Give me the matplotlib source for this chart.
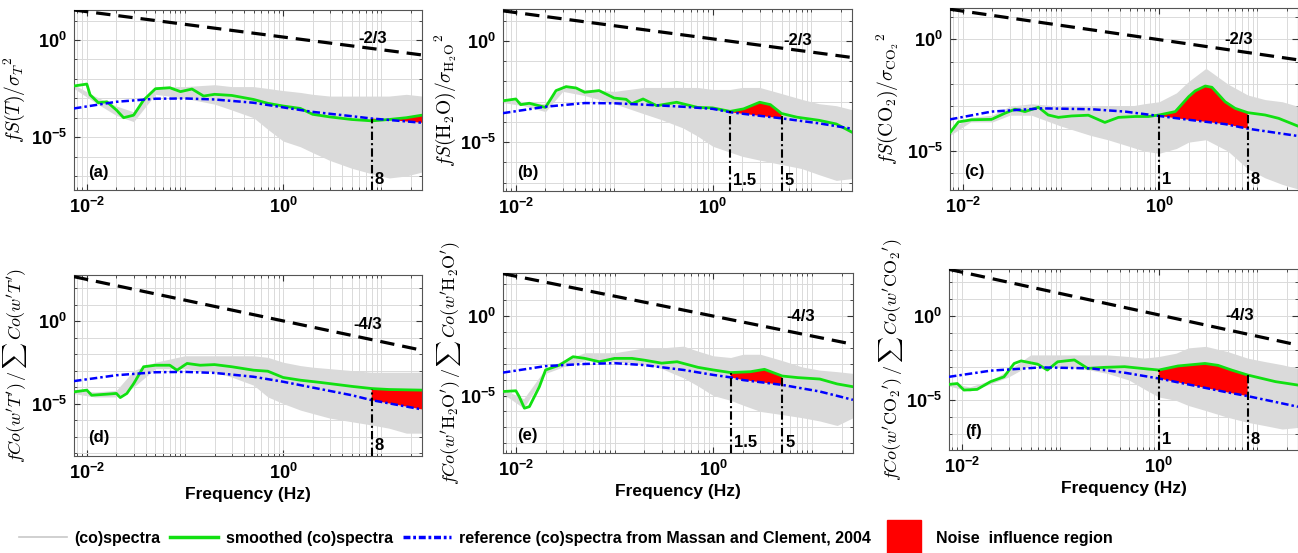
#Purpose: normalized (co)spectra of T, H2O, CO2 with noise influence regions
import numpy as np
import matplotlib.pyplot as plt
from matplotlib.lines import Line2D
from matplotlib.ticker import FixedLocator, LogLocator, NullFormatter
import matplotlib.transforms as mtransforms

plt.rcParams['font.family'] = ['Liberation Sans', 'DejaVu Sans']
plt.rcParams['font.weight'] = 'bold'
plt.rcParams['mathtext.fontset'] = 'custom'
plt.rcParams['mathtext.rm'] = 'Liberation Sans:bold'
plt.rcParams['mathtext.bf'] = 'Liberation Sans:bold'
plt.rcParams['mathtext.it'] = 'Liberation Sans:bold:italic'

#frequency range and the -2/3, -4/3 guide lines
x_range = [0.0074, 26]
slope_f = [0.0074, 26]

#grey raw (co)spectra: upper and lower envelope
grey_f = [0.0074, 0.012, 0.02, 0.03, 0.05, 0.1, 0.2, 0.3, 0.5, 0.7, 1, 1.5, 2, 3, 5, 8, 12, 18, 26]

# ---- (a) T spectrum
a_green_f = [0.0074, 0.010, 0.0108, 0.0131, 0.016, 0.020, 0.0237, 0.030, 0.0379, 0.050, 0.070, 0.090,
             0.118, 0.155, 0.20, 0.30, 0.50, 0.70, 1.0, 1.5, 2.0, 3.0, 5.0, 8.0, 12, 18, 26]
a_green = [4.3e-3, 5.4e-3, 1.5e-3, 5.9e-4, 6.6e-4, 2.5e-4, 1.0e-4, 1.35e-4, 8.1e-4, 3.1e-3, 3.5e-3, 2.2e-3,
           3.0e-3, 1.3e-3, 1.6e-3, 1.4e-3, 8.7e-4, 5.5e-4, 4.0e-4, 3.0e-4, 1.5e-4, 1.1e-4, 8.1e-5, 6.9e-5, 8.1e-5, 1.0e-4, 1.35e-4]
a_ref_f = [0.0074, 0.02, 0.05, 0.1, 0.2, 0.5, 1.0, 2.0, 5.0, 8.0, 26]
a_ref = [3.0e-4, 6.6e-4, 9.5e-4, 9.8e-4, 8.7e-4, 5.9e-4, 3.4e-4, 2.0e-4, 1.2e-4, 9.1e-5, 5.5e-5]
a_grey_hi = [5.0e-3, 1.3e-3, 4.0e-4, 2.0e-4, 4.0e-3, 4.0e-3, 5.0e-3, 4.0e-3, 4.0e-3, 3.2e-3, 2.5e-3, 2.0e-3,
             1.6e-3, 1.3e-3, 1.3e-3, 1.3e-3, 1.3e-3, 1.6e-3, 1.3e-3]
a_grey_lo = [3.2e-3, 6.3e-4, 1.3e-4, 6.3e-5, 1.6e-3, 1.0e-3, 5.0e-4, 2.5e-4, 1.0e-4, 2.5e-5, 6.3e-6, 3.2e-6,
             1.6e-6, 6.3e-7, 2.5e-7, 1.3e-7, 7.9e-8, 1.0e-7, 1.6e-7]
a_slope = [35, 0.17]
a_ylim = [1.9e-8, 35]

# ---- (b) H2O spectrum
b_green_f = [0.0074, 0.010, 0.0112, 0.0137, 0.020, 0.0256, 0.0324, 0.041, 0.050, 0.070, 0.10, 0.132,
             0.15, 0.196, 0.27, 0.43, 0.70, 1.0, 1.5, 2.06, 3.0, 3.85, 5.0, 7.2, 12, 18, 26]
b_green = [1.1e-3, 1.35e-3, 7.1e-4, 8.3e-4, 5.2e-4, 3.5e-3, 5.5e-3, 4.7e-3, 2.9e-3, 3.5e-3, 1.5e-3, 1.3e-3,
           7.8e-4, 1.35e-3, 6.3e-4, 9.3e-4, 5.2e-4, 4.9e-4, 3.3e-4, 4.4e-4, 9.3e-4, 7.1e-4, 2.6e-4, 1.7e-4, 1.2e-4, 7.9e-5, 3.1e-5]
b_ref_f = [0.0074, 0.02, 0.05, 0.1, 0.2, 0.5, 1.0, 1.5, 3.0, 5.0, 12, 26]
b_ref = [2.7e-4, 5.6e-4, 8.5e-4, 8.3e-4, 7.1e-4, 5.6e-4, 4.4e-4, 3.0e-4, 2.0e-4, 1.5e-4, 8.5e-5, 4.6e-5]
b_grey_hi = [1.4e-3, 1.0e-3, 7.9e-4, 6.3e-3, 4.0e-3, 3.2e-3, 5.0e-3, 5.0e-3, 5.0e-3, 5.0e-3, 4.0e-3, 4.0e-3,
             5.0e-3, 5.0e-3, 2.5e-3, 1.3e-3, 7.9e-4, 6.3e-4, 4.0e-4]
b_grey_lo = [8.9e-4, 6.3e-4, 3.2e-4, 3.2e-3, 2.0e-3, 7.9e-4, 2.5e-4, 1.3e-4, 5.0e-5, 2.0e-5, 6.3e-6, 3.2e-6,
             2.0e-6, 1.3e-6, 7.9e-7, 5.0e-7, 2.5e-7, 1.3e-7, 1.6e-7]
b_slope = [30, 0.15]
b_ylim = [3.9e-8, 37]

# ---- (c) CO2 spectrum
c_green_f = [0.0074, 0.009, 0.0123, 0.0196, 0.0268, 0.034, 0.043, 0.059, 0.074, 0.094, 0.128, 0.19,
             0.28, 0.385, 0.57, 0.78, 1.0, 1.46, 2.0, 2.33, 2.95, 3.45, 4.0, 4.7, 5.95, 8.0, 12, 16.5, 26]
c_green = [6.6e-5, 2.0e-4, 2.5e-4, 2.6e-4, 4.9e-4, 7.4e-4, 5.8e-4, 9.1e-4, 4.1e-4, 3.2e-4, 3.7e-4, 4.0e-4,
           1.9e-4, 3.2e-4, 3.5e-4, 3.5e-4, 4.1e-4, 5.8e-4, 2.7e-3, 4.9e-3, 8.1e-3, 7.1e-3, 3.5e-3, 1.6e-3,
           8.1e-4, 5.2e-4, 4.1e-4, 2.9e-4, 1.3e-4]
c_ref_f = [0.0074, 0.0196, 0.064, 0.206, 0.45, 1.0, 2.0, 4.7, 8.0, 26]
c_ref = [2.6e-4, 5.8e-4, 8.1e-4, 7.4e-4, 5.8e-4, 3.7e-4, 2.5e-4, 1.6e-4, 1.0e-4, 4.7e-5]
c_grey_hi = [1.0e-4, 3.2e-4, 4.0e-4, 1.0e-3, 1.3e-3, 1.0e-3, 1.0e-3, 1.0e-3, 1.0e-3, 1.3e-3, 1.6e-3, 4.0e-3,
             1.3e-2, 5.0e-2, 1.0e-2, 3.2e-3, 2.0e-3, 1.6e-3, 1.0e-3]
c_grey_lo = [5.0e-5, 2.0e-4, 2.0e-4, 4.0e-4, 4.0e-4, 1.3e-4, 5.0e-5, 3.2e-5, 1.6e-5, 1.0e-5, 7.9e-6, 1.3e-5,
             2.5e-5, 3.2e-5, 1.0e-5, 1.6e-6, 6.3e-7, 3.2e-7, 2.0e-7]
c_slope = [22, 0.12]
c_ylim = [1.8e-7, 25]

# ---- (d) w'T' cospectrum
d_green_f = [0.0074, 0.010, 0.0112, 0.016, 0.020, 0.0219, 0.0256, 0.030, 0.0379, 0.050, 0.070, 0.083,
             0.105, 0.143, 0.20, 0.30, 0.50, 0.70, 1.0, 1.5, 2.4, 5.0, 8.0, 12, 26]
d_green = [5.1e-5, 6.5e-5, 3.2e-5, 3.7e-5, 4.1e-5, 2.3e-5, 4.1e-5, 1.6e-4, 1.7e-3, 2.1e-3, 2.1e-3, 1.05e-3,
           2.7e-3, 2.1e-3, 2.3e-3, 1.7e-3, 1.05e-3, 9.1e-4, 3.8e-4, 2.6e-4, 1.9e-4, 1.1e-4, 8.1e-5, 7.1e-5, 6.5e-5]
d_ref_f = [0.0074, 0.02, 0.05, 0.1, 0.2, 0.5, 1.0, 2.0, 5.0, 8.0, 26]
d_ref = [2.3e-4, 5.2e-4, 7.9e-4, 8.3e-4, 7.2e-4, 4.2e-4, 2.1e-4, 9.3e-5, 3.2e-5, 1.6e-5, 4.4e-6]
d_grey_hi = [7.1e-5, 5.0e-5, 6.3e-5, 1.0e-3, 3.2e-3, 7.9e-3, 7.9e-3, 7.9e-3, 7.9e-3, 6.3e-3, 3.2e-3, 2.0e-3,
             1.6e-3, 1.3e-3, 1.0e-3, 7.9e-4, 7.9e-4, 7.9e-4, 7.9e-4]
d_grey_lo = [4.0e-5, 2.5e-5, 2.5e-5, 1.0e-4, 1.3e-3, 1.3e-3, 7.9e-4, 4.0e-4, 1.3e-4, 2.5e-5, 1.0e-5, 4.0e-6,
             2.5e-6, 1.3e-6, 7.9e-7, 5.0e-7, 3.2e-7, 1.6e-7, 1.6e-7]
d_slope = [490, 0.017]
d_ylim = [6.6e-9, 620]

# ---- (e) w'H2O' cospectrum
e_green_f = [0.0074, 0.010, 0.0108, 0.0122, 0.0137, 0.0173, 0.020, 0.0277, 0.0379, 0.050, 0.070, 0.10,
             0.15, 0.20, 0.30, 0.43, 0.70, 1.0, 1.5, 2.4, 3.3, 5.0, 7.2, 12, 18, 26]
e_green = [1.8e-5, 2.0e-5, 8.7e-6, 1.6e-6, 2.0e-6, 3.6e-5, 4.1e-4, 8.3e-4, 2.8e-3, 2.2e-3, 1.35e-3, 2.2e-3,
           2.2e-3, 1.7e-3, 1.1e-3, 1.35e-3, 6.0e-4, 4.1e-4, 2.8e-4, 3.2e-4, 4.5e-4, 1.7e-4, 1.35e-4, 1.1e-4, 5.4e-5, 3.6e-5]
e_ref_f = [0.0074, 0.02, 0.05, 0.1, 0.2, 0.5, 1.0, 1.5, 2.0, 5.0, 12, 26]
e_ref = [2.8e-4, 7.2e-4, 9.8e-4, 1.1e-3, 8.3e-4, 4.1e-4, 2.0e-4, 1.4e-4, 9.5e-5, 4.7e-5, 1.8e-5, 5.4e-6]
e_grey_hi = [2.5e-5, 6.3e-6, 5.0e-4, 1.6e-3, 5.0e-3, 5.0e-3, 1.0e-2, 1.0e-2, 1.3e-2, 6.3e-3, 3.2e-3, 2.5e-3,
             4.0e-3, 4.0e-3, 1.6e-3, 6.3e-4, 4.0e-4, 3.2e-4, 2.5e-4]
e_grey_lo = [1.3e-5, 1.6e-6, 2.5e-4, 6.3e-4, 1.6e-3, 1.3e-3, 1.0e-3, 5.0e-4, 1.3e-4, 4.0e-5, 1.0e-5, 5.0e-6,
             2.5e-6, 1.0e-6, 6.3e-7, 4.0e-7, 2.5e-7, 1.3e-7, 4.0e-7]
e_slope = [480, 0.017]
e_ylim = [2.4e-9, 525]

# ---- (f) w'CO2' cospectrum
f_green_f = [0.0074, 0.009, 0.0105, 0.0143, 0.0196, 0.0268, 0.034, 0.040, 0.059, 0.074, 0.094, 0.139,
             0.19, 0.28, 0.45, 0.67, 1.0, 1.57, 2.95, 4.0, 5.5, 8.0, 15.3, 26]
f_green = [8.9e-5, 1.0e-4, 4.1e-5, 4.5e-5, 1.3e-4, 2.5e-4, 1.55e-3, 2.2e-3, 1.4e-3, 6.3e-4, 1.95e-3, 2.5e-3,
           7.9e-4, 9.1e-4, 1.0e-3, 7.9e-4, 6.3e-4, 1.1e-3, 1.55e-3, 1.2e-3, 6.3e-4, 3.2e-4, 1.3e-4, 8.1e-5]
f_ref_f = [0.0074, 0.0196, 0.064, 0.206, 0.45, 1.0, 2.15, 4.7, 8.0, 26]
f_ref = [2.5e-4, 5.8e-4, 9.1e-4, 7.9e-4, 4.4e-4, 2.0e-4, 8.1e-5, 3.2e-5, 1.8e-5, 4.2e-6]
f_grey_hi = [1.1e-4, 6.3e-5, 1.6e-4, 6.3e-4, 5.0e-3, 5.0e-3, 5.0e-3, 5.0e-3, 4.0e-3, 3.2e-3, 4.0e-3, 6.3e-3,
             1.3e-2, 1.6e-2, 7.9e-3, 3.2e-3, 2.0e-3, 1.3e-3, 7.9e-4]
f_grey_lo = [7.1e-5, 3.5e-5, 1.0e-4, 2.5e-4, 1.3e-3, 1.0e-3, 6.3e-4, 4.0e-4, 1.6e-4, 5.0e-5, 1.6e-5, 1.0e-5,
             5.0e-6, 2.5e-6, 1.0e-6, 5.0e-7, 3.2e-7, 2.0e-7, 2.5e-7]
f_slope = [590, 0.019]
f_ylim = [1.15e-8, 620]

#noise band limits (Hz) and cut lines
a_band, b_band, c_band = [8, 26], [1.5, 5], [1, 8]
d_band, e_band, f_band = [8, 26], [1.5, 5], [1, 8]
a_cuts, b_cuts, c_cuts = [8], [1.5, 5], [1, 8]
d_cuts, e_cuts, f_cuts = [8], [1.5, 5], [1, 8]
cut_names = {8: '8', 1.5: '1.5', 5: '5', 1: '1'}

ylabels = [r'$fS(T)/{\sigma_T}^2$',
           r'$fS(\mathrm{H_2O})/{\sigma_{\mathrm{H_2O}}}^2$',
           r'$fS(\mathrm{CO_2})/{\sigma_{\mathrm{CO_2}}}^2$',
           r"$fCo(w'T')\,/\,\sum\,Co(w'T')$",
           r"$fCo(w'\mathrm{H_2O}')\,/\,\sum\,Co(w'\mathrm{H_2O}')$",
           r"$fCo(w'\mathrm{CO_2}')\,/\,\sum\,Co(w'\mathrm{CO_2}')$"]
ylabel_size = [14, 14, 14, 13, 13, 13]

panels = [
    ('(a)', a_green_f, a_green, a_ref_f, a_ref, a_grey_hi, a_grey_lo, a_slope, a_ylim, a_band, a_cuts, '-2/3', (8.1, 1.2)),
    ('(b)', b_green_f, b_green, b_ref_f, b_ref, b_grey_hi, b_grey_lo, b_slope, b_ylim, b_band, b_cuts, '-2/3', (7.3, 1.07)),
    ('(c)', c_green_f, c_green, c_ref_f, c_ref, c_grey_hi, c_grey_lo, c_slope, c_ylim, c_band, c_cuts, '-2/3', (6.4, 1.0)),
    ('(d)', d_green_f, d_green, d_ref_f, d_ref, d_grey_hi, d_grey_lo, d_slope, d_ylim, d_band, d_cuts, '-4/3', (7.2, 0.58)),
    ('(e)', e_green_f, e_green, e_ref_f, e_ref, e_grey_hi, e_grey_lo, e_slope, e_ylim, e_band, e_cuts, '-4/3', (7.6, 0.9)),
    ('(f)', f_green_f, f_green, f_ref_f, f_ref, f_grey_hi, f_grey_lo, f_slope, f_ylim, f_band, f_cuts, '-4/3', (6.7, 1.15)),
]

#axes boxes in figure fraction (left, bottom, width, height)
boxes = [[0.0570, 0.6564, 0.2681, 0.3255], [0.3875, 0.6546, 0.2689, 0.3291], [0.7319, 0.6564, 0.2681, 0.3291],
         [0.0570, 0.1754, 0.2681, 0.3273], [0.3875, 0.1808, 0.2696, 0.3255], [0.7311, 0.1863, 0.2689, 0.3273]]
label_x = [-0.135, -0.125, -0.14, -0.13, -0.115, -0.125]

green_c = '#11e011'
grey_c = '#dadada'

fig = plt.figure(figsize=(12.98, 5.53), dpi=100)

for i, (tag, gf, gv, rf, rv, ghi, glo, slope, ylim, band, cuts, stxt, spos) in enumerate(panels):
    ax = fig.add_axes(boxes[i])
    ax.set_xscale('log')
    ax.set_yscale('log')

    #raw (co)spectra
    ax.fill_between(grey_f, glo, ghi, color=grey_c, lw=0, zorder=1)
    #slope guide
    ax.plot(slope_f, slope, color='black', lw=2.3, ls=(0, (4.5, 2.5)), zorder=3)
    ax.text(spos[0], spos[1], stxt, fontsize=12, fontweight='bold', ha='center', va='center', zorder=5)

    #noise influence region between smoothed and reference curves
    gf_a, gv_a = np.array(gf), np.array(gv)
    rf_a, rv_a = np.array(rf), np.array(rv)
    m1 = (gf_a >= band[0]) & (gf_a <= band[1])
    m2 = (rf_a >= band[0]) & (rf_a <= band[1])
    xs = np.concatenate([gf_a[m1], rf_a[m2][::-1]])
    ys = np.concatenate([gv_a[m1], rv_a[m2][::-1]])
    ax.fill(xs, ys, color='red', lw=0, zorder=2)

    ax.plot(gf, gv, color=green_c, lw=2, zorder=4)
    ax.plot(rf, rv, color='blue', lw=1.8, ls=(0, (3, 1.2, 1, 1.2)), zorder=4)

    trans = mtransforms.blended_transform_factory(ax.transData, ax.transAxes)
    for c in cuts:
        top = max(gv_a[np.isclose(gf_a, c)][0], rv_a[np.isclose(rf_a, c)][0])
        ax.plot([c, c], [ylim[0], top], color='black', lw=1.5, ls=(0, (4, 1.5, 1, 1.5)), zorder=5)
        ax.text(c * 1.07, 0.06, cut_names[c], transform=trans, fontsize=12, fontweight='bold',
                ha='left', va='center', zorder=6)

    ax.text(0.07, 0.1, tag, transform=ax.transAxes, fontsize=12, fontweight='bold',
            ha='center', va='center')

    ax.set_xlim(x_range)
    ax.set_ylim(ylim)
    ax.set_xticks([1e-2, 1e0])
    ax.set_xticklabels([r'$\mathbf{10^{-2}}$', r'$\mathbf{10^{0}}$'])
    ax.xaxis.set_minor_locator(LogLocator(base=10, subs=np.arange(1, 10), numticks=30))
    ax.xaxis.set_minor_formatter(NullFormatter())
    ax.set_yticks([1e-5, 1e0])
    ax.set_yticklabels([r'$\mathbf{10^{-5}}$', r'$\mathbf{10^{0}}$'])
    ax.yaxis.set_minor_locator(FixedLocator(10.0 ** np.arange(-10, 4)))
    ax.yaxis.set_minor_formatter(NullFormatter())
    ax.grid(True, which='both', color='#dadada', lw=0.7, zorder=0)
    ax.set_axisbelow(True)
    ax.tick_params(which='both', direction='in', top=True, right=True, labelsize=13, colors='#333333')
    ax.tick_params(which='major', length=4, pad=5)
    ax.tick_params(which='minor', length=2)
    for sp in ax.spines.values():
        sp.set_color('#555555')
        sp.set_linewidth(0.8)
    for lab in ax.get_xticklabels() + ax.get_yticklabels():
        lab.set_color('black')

    ax.set_ylabel(ylabels[i], fontsize=ylabel_size[i], math_fontfamily='cm')
    ax.yaxis.set_label_coords(label_x[i], 0.5)
    if i >= 3:
        ax.set_xlabel('Frequency (Hz)', fontsize=12.5, fontweight='bold', labelpad=3)

handles = [Line2D([], [], color='#c8c8c8', lw=1.2),
           Line2D([], [], color=green_c, lw=2.5),
           Line2D([], [], color='blue', lw=2.5, ls=(0, (2, 0.8, 0.8, 0.8))),
           Line2D([], [], color='red', marker='s', ms=24, ls='none')]
labels = ['(co)spectra', 'smoothed (co)spectra',
          'reference (co)spectra from Massan and Clement, 2004', 'Noise  influence region']
fig.legend(handles, labels, loc='center', bbox_to_anchor=(0.436, 0.027), ncol=4, frameon=False,
           fontsize=11.5, handlelength=3.0, handletextpad=0.5, columnspacing=0.6)

fig.savefig('out.png', dpi=100)
